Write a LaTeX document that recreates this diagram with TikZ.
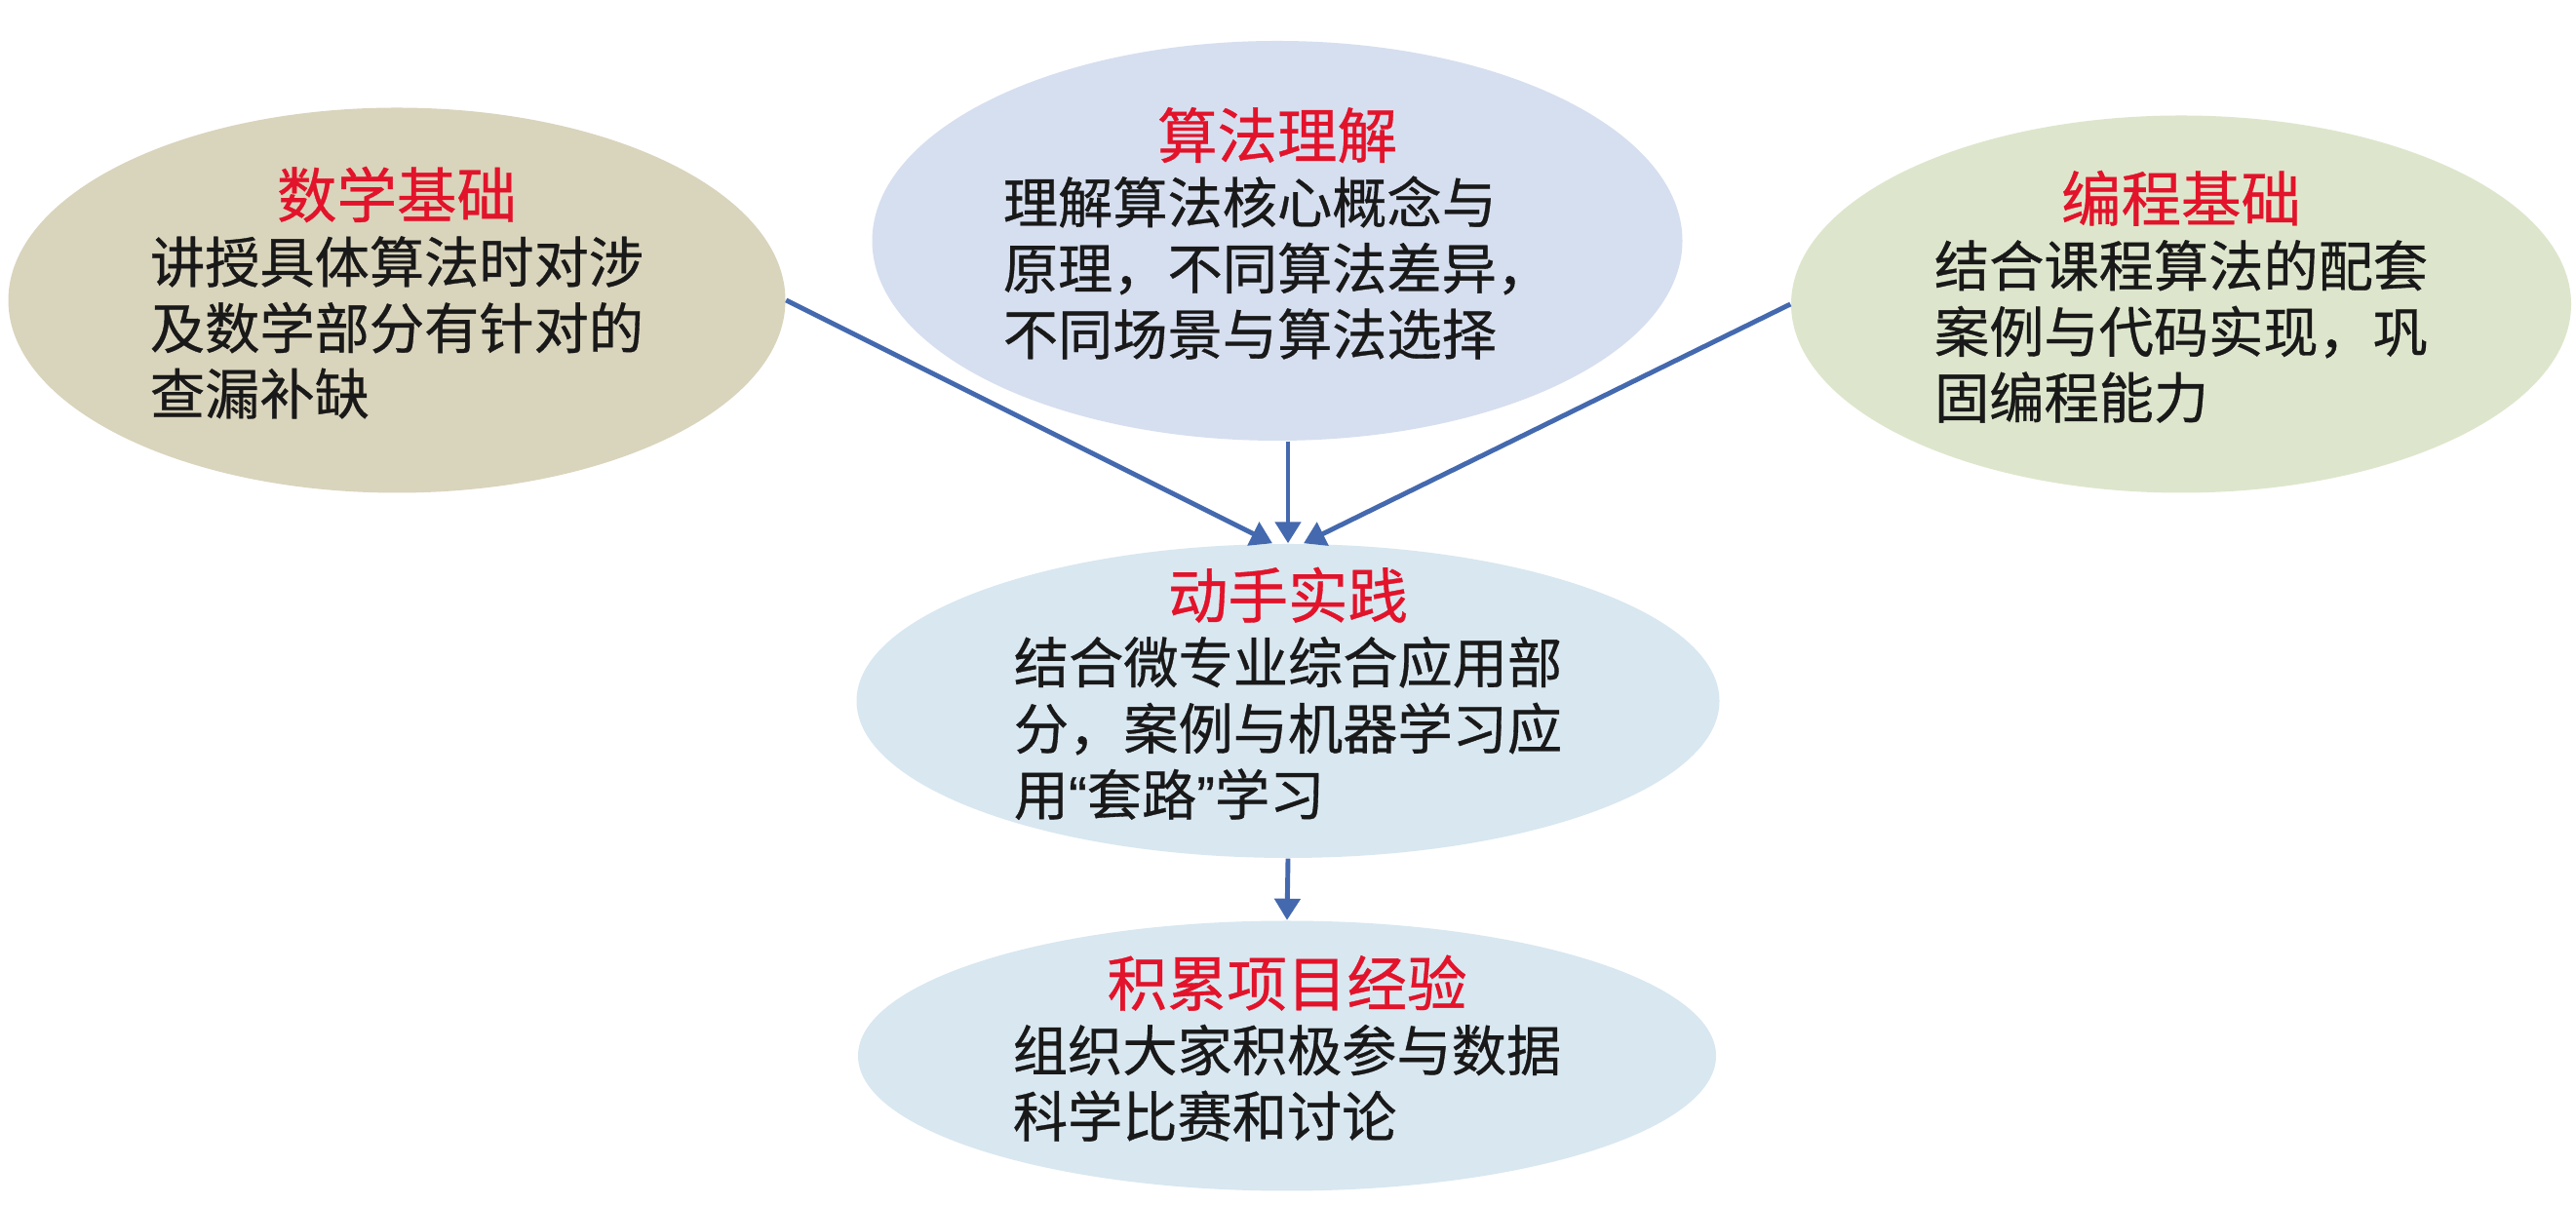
\documentclass[tikz,border=0pt]{standalone}
\usepackage{fontspec}
\setmainfont{Noto Sans CJK SC}[FakeBold=0.6]
\newfontfamily\quotefont{Liberation Sans}[FakeBold=0.6]
\usepackage{xcolor}
\usepackage{tikz}
\usetikzlibrary{shapes.geometric, arrows.meta, positioning}
\definecolor{mathfill}{HTML}{D9D4BC}
\definecolor{algofill}{HTML}{D6DFEF}
\definecolor{codefill}{HTML}{DDE6CC}
\definecolor{practicefill}{HTML}{D8E7F0}
\definecolor{titlered}{HTML}{E2132A}
\definecolor{linkblue}{HTML}{4469AE}
\newcommand{\bubbletitle}[1]{{\fontsize{17.5}{19}\selectfont\color{titlered}#1}}

\begin{document}
\begin{tikzpicture}[
    bubble/.style={ellipse, fill=#1, draw=none, inner xsep=0pt, inner ysep=-6mm, align=center,
        font=\fontsize{16}{19}\selectfont, text=black!90},
    link/.style={-{Triangle[length=2.2mm, width=2.6mm]}, linkblue, line width=1.4pt}
]
\useasboundingbox[fill=white] (0,0) rectangle (26.42,12.36);

% Three foundations at top
\node[bubble=mathfill, minimum width=7.97cm, minimum height=3.95cm] (math) at (4.07,9.28)
    {\bubbletitle{数学基础}\\
     \begin{tabular}[t]{@{}l@{}}讲授具体算法时对涉\\及数学部分有针对的\\查漏补缺\end{tabular}};
\node[bubble=algofill, minimum width=8.31cm, minimum height=4.10cm] (algo) at (13.10,9.89)
    {\bubbletitle{算法理解}\\
     \begin{tabular}[t]{@{}l@{}}理解算法核心概念与\\原理，不同算法差异，\\不同场景与算法选择\end{tabular}};
\node[bubble=codefill, minimum width=8.00cm, minimum height=3.87cm] (code) at (22.37,9.24)
    {\bubbletitle{编程基础}\\
     \begin{tabular}[t]{@{}l@{}}结合课程算法的配套\\案例与代码实现，巩\\固编程能力\end{tabular}};

% Practice in the middle
\node[bubble=practicefill, minimum width=8.85cm, minimum height=3.22cm] (hands) at (13.21,5.17)
    {\bubbletitle{动手实践}\\
     \begin{tabular}[t]{@{}l@{}}结合微专业综合应用部\\分，案例与机器学习应\\用{\quotefont “}套路{\quotefont ”}学习\end{tabular}};

% Project experience at bottom
\node[bubble=practicefill, minimum width=8.80cm, minimum height=2.77cm] (project) at (13.20,1.53)
    {\bubbletitle{积累项目经验}\\
     \begin{tabular}[t]{@{}l@{}}组织大家积极参与数据\\科学比赛和讨论\end{tabular}};

% Connections
\draw[link] (math.east) -- ([xshift=-1.6mm]hands.north);
\draw[link] (algo.south -| hands.north) -- (hands.north);
\draw[link] (code.west) -- ([xshift=1.6mm]hands.north);
\draw[link] (hands.south) -- (project.north);
\end{tikzpicture}
\end{document}
